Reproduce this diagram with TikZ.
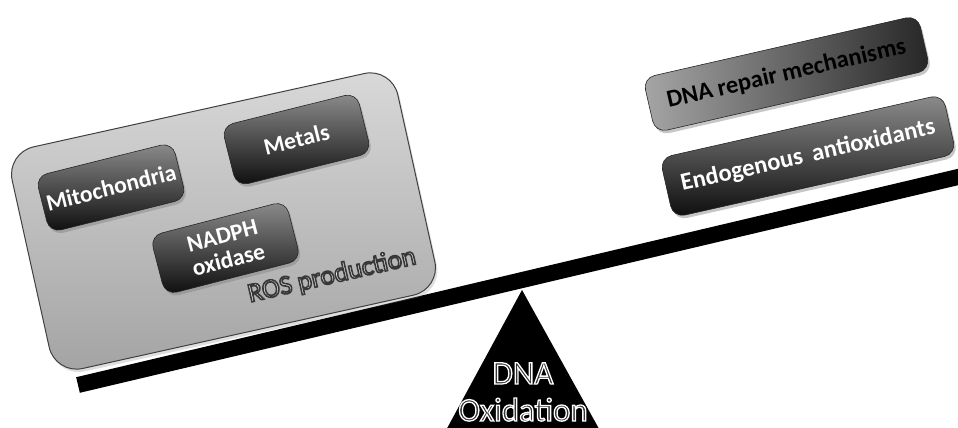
\documentclass[tikz,border=0pt]{standalone}
\usepackage{fontspec}
\setmainfont{Carlito}
\usetikzlibrary{shadows}
% outlined text: fill colour #1, stroke colour (rgb) #2, stroke width #3 (bp), text #4
\newcommand\strokedtext[4]{%
  \textcolor{#1}{\special{pdf:literal direct #2 RG #3 w 2 Tr}#4\special{pdf:literal direct 0 Tr}}}
\tikzset{
  outerbox/.style={draw=black!75, line width=1pt, rounded corners=28pt,
    top color=gray!30, bottom color=gray!72, minimum width=395pt, minimum height=227pt,
    inner sep=0pt,
    drop shadow={shadow xshift=2pt, shadow yshift=-3pt, opacity=0.25}},
  darkbox/.style={draw=black!85, line width=0.6pt, rounded corners=12pt,
    top color=black!45, bottom color=black!95, text=white, inner sep=0pt,
    font=\fontsize{23.5}{25}\selectfont\bfseries, align=center,
    drop shadow={shadow xshift=2pt, shadow yshift=-3pt, opacity=0.45}},
  lightbox/.style={draw=black!85, line width=0.6pt, rounded corners=12pt,
    left color=black!35, right color=black!85, text=black, inner sep=0pt,
    font=\fontsize{24.5}{26}\selectfont\bfseries,
    drop shadow={shadow xshift=2pt, shadow yshift=-3pt, opacity=0.45}},
}
\begin{document}
\begin{tikzpicture}[x=1pt, y=-1pt]
\useasboundingbox (0,0) rectangle (958,428);
\begin{scope}
  \clip (0,0) rectangle (958,428);
  % fulcrum
  \coordinate (apex) at (522,290);
  \coordinate (baseL) at (438,445);
  \coordinate (baseR) at (608,445);
  \fill[black] (apex) -- (baseR) -- (baseL) -- cycle;
  % beam
  \coordinate (beamL) at (78,385);
  \coordinate (beamR) at (975,173);
  \draw[black, line width=16pt, line cap=butt] (beamL) -- (beamR);
\end{scope}
% ROS production box
\node[outerbox, rotate=12.5] (ros) at (223.5,221) {};
\node[darkbox, rotate=14, minimum width=141pt, minimum height=58pt] (mito) at (111,187.5) {Mitochondria};
\node[darkbox, rotate=14, minimum width=139pt, minimum height=62pt] (metals) at (296.5,139.5) {Metals};
\node[darkbox, rotate=14.5, minimum width=140pt, minimum height=61pt] (nadph) at (225.5,248) {NADPH\\oxidase};
\node[rotate=13, inner sep=0pt, font=\fontsize{27}{29}\selectfont] (roslabel) at (332,276)
  {\strokedtext{white}{0.22 0.22 0.22}{1.6}{ROS production}};
% right side boxes
\node[lightbox, rotate=12.9, minimum width=282pt, minimum height=56pt] (repair) at (786.5,74) {DNA repair mechanisms};
\node[darkbox, rotate=12.7, minimum width=290pt, minimum height=61pt,
  font=\fontsize{24.5}{26}\selectfont\bfseries] (antiox) at (808,156) {Endogenous\hspace{0.4em}antioxidants};
% fulcrum label
\node[inner sep=0pt, align=center, font=\fontsize{33}{37}\selectfont] (dnaox) at (523,392)
  {\strokedtext{black!80}{1 1 1}{1.3}{DNA}\\\strokedtext{black!80}{1 1 1}{1.3}{Oxidation}};
\end{tikzpicture}
\end{document}
